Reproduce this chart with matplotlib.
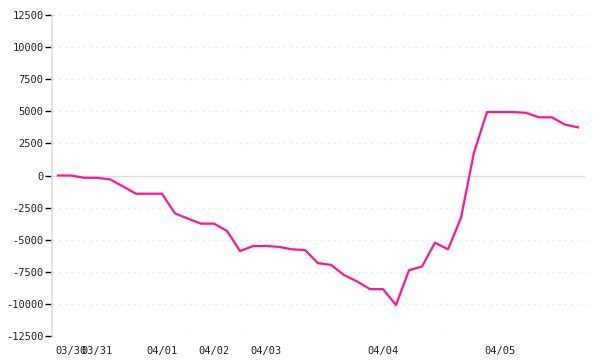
import numpy as np
import matplotlib
matplotlib.use("Agg")
import matplotlib.pyplot as plt

# values, one per sample (evenly spaced)
values = [0, 0, -180, -180, -300, -850, -1420, -1420, -1420, -2950,
          -3360, -3750, -3750, -4320, -5880, -5500, -5490, -5560, -5750, -5800,
          -6830, -6960, -7750, -8250, -8850, -8850, -10090, -7380, -7090, -5230,
          -5750, -3300, 1800, 4940, 4940, 4940, 4880, 4530, 4530, 3960,
          3750]
tick_idx = [1, 3, 8, 12, 16, 25, 34]
tick_labels = ["03/30", "03/31", "04/01", "04/02", "04/03", "04/04", "04/05"]
y_ticks = [-12500, -10000, -7500, -5000, -2500, 0, 2500, 5000, 7500, 10000, 12500]

plt.rcParams['font.family'] = ['DejaVu Sans Mono']

fig = plt.figure(figsize=(6, 3.6), dpi=100)
ax = fig.add_axes([52/600, 24/360, 533/600, 321/360])

x = np.arange(len(values))
ax.plot(x, values, c='#ff1493', lw=1.6, zorder=3)

ax.set_xlim(-6/13, len(values) - 1 + 7/13)
ax.set_ylim(-12500, 12500)

for v in y_ticks:
    if v == 0:
        ax.axhline(v, color='#dddddd', lw=1, zorder=1)
    else:
        ax.axhline(v, color='#e8e8e8', lw=1, ls=(0, (1.5, 3)), zorder=1)

ax.set_yticks(y_ticks)
ax.set_yticklabels([str(v) for v in y_ticks])
ax.set_xticks(tick_idx)
ax.set_xticklabels(tick_labels)

ax.tick_params(axis='y', length=5, width=1, color='black', pad=1, labelsize=7.5, labelcolor='#222222')
ax.tick_params(axis='x', length=0, pad=7, labelsize=7.5, labelcolor='#222222')

for s in ['top', 'right', 'bottom']:
    ax.spines[s].set_visible(False)
ax.spines['left'].set_color('#dddddd')
ax.spines['left'].set_linewidth(1.2)

fig.savefig("out.png", dpi=100)
